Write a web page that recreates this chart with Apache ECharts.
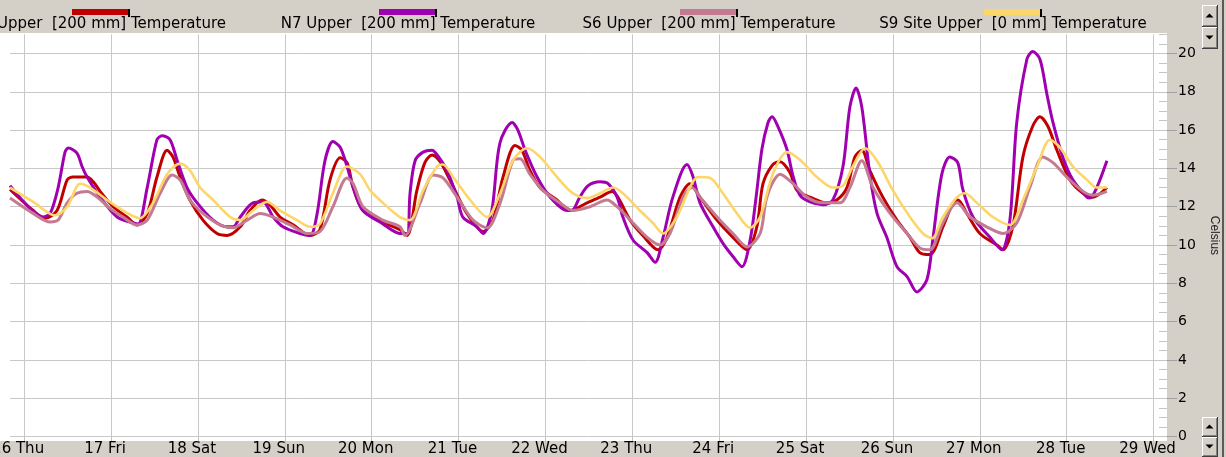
<!DOCTYPE html>
<html><head><meta charset="utf-8">
<script src="https://cdn.jsdelivr.net/npm/echarts@6/dist/echarts.min.js"></script>
<style>html,body{margin:0;padding:0;background:#d4d0c8;overflow:hidden}#c{width:1226px;height:457px}</style>
</head><body><div id="c"></div>
<script>
// ---- data ----
const dayLabels = ['16 Thu','17 Fri','18 Sat','19 Sun','20 Mon','21 Tue','22 Wed','23 Thu','24 Fri','25 Sat','26 Sun','27 Mon','28 Tue','29 Wed'];
const dayTicks = [0,24,48,72,96,120,144,168,192,216,240,264,288,312]; // hours since 16 Thu 00:00
const seriesNames = ['Upper  [200 mm] Temperature','N7 Upper  [200 mm] Temperature','S6 Upper  [200 mm] Temperature','S9 Site Upper  [0 mm] Temperature'];
const seriesColors = ['#c00000','#a000b0','#c47a90','#fcd668'];

const redHours = [-3.9,2.5,5.8,9.1,11.9,13.5,17.4,19.1,21.0,24.6,28.4,31.2,34.0,36.7,39.5,41.1,43.1,45.8,49.4,53.3,56.1,59.7,62.4,65.7,67.9,70.7,74.3,79.0,81.7,84.5,87.3,89.2,90.9,93.6,99.1,103.8,105.8,108.5,110.7,112.7,114.9,117.6,122.3,126.8,129.5,132.3,135.6,137.5,139.7,142.5,147.2,150.8,155.5,159.1,162.4,164.0,167.4,170.9,175.1,177.6,181.2,183.9,186.7,191.4,195.8,199.7,202.4,204.1,206.8,208.8,211.5,213.5,217.1,221.8,224.5,227.3,229.5,231.4,233.6,237.2,241.1,244.7,247.4,250.2,253.8,256.6,257.9,260.4,264.0,268.7,270.4,273.1,275.9,278.6,280.6,282.8,285.3,288.9,292.5,295.2,299.1];
const redTemp = [12.9,11.8,11.4,11.8,13.4,13.55,13.55,13.3,12.8,12.0,11.46,11.05,11.65,13.55,14.95,14.6,13.55,12.35,11.3,10.6,10.5,10.95,11.8,12.35,12.1,11.46,11.05,10.5,10.8,13.4,14.55,14.3,13.0,11.8,11.2,10.8,10.5,12.85,14.3,14.7,14.35,13.4,11.65,10.7,11.3,13.55,15.2,14.95,13.9,13.0,12.35,11.8,12.2,12.5,12.8,12.5,11.3,10.5,9.75,10.4,12.5,13.2,12.5,11.3,10.4,9.75,10.95,13.2,14.2,14.35,13.8,12.85,12.5,12.2,12.35,13.0,14.6,14.95,13.9,12.5,11.3,10.4,9.6,9.5,10.95,12.2,12.35,11.65,10.6,10.0,9.75,10.95,14.6,16.2,16.7,16.2,14.95,13.4,12.7,12.5,13.0];

const purpleHours = [-3.9,1.7,5.2,7.2,9.4,11.3,12.2,14.6,16.0,17.4,21.0,25.7,30.1,31.5,34.0,36.7,38.1,40.3,42.3,45.0,47.8,52.2,56.1,57.7,59.7,63.2,66.0,68.8,71.5,76.2,79.0,80.9,83.1,85.3,87.3,89.2,90.9,93.6,99.1,103.8,105.8,106.6,108.0,110.2,112.7,114.1,116.8,119.6,121.2,125.1,126.8,129.2,131.4,134.8,136.4,138.4,141.7,145.3,150.0,151.3,153.5,155.8,159.1,161.3,163.8,165.4,168.2,172.1,174.3,176.5,179.2,183.1,184.8,186.7,190.3,193.0,195.8,198.3,200.5,202.2,203.8,205.5,206.6,208.2,210.7,212.4,214.3,217.1,220.7,223.4,226.2,228.1,229.8,231.4,233.6,235.6,238.3,241.1,243.9,246.6,249.4,251.0,253.5,255.7,257.9,259.3,262.1,266.8,270.1,272.3,274.2,277.0,278.6,280.6,282.5,284.2,286.9,289.7,293.6,294.4,296.3,299.1];
const purpleTemp = [13.1,11.9,11.46,11.65,13.0,14.85,15.06,14.8,14.1,13.55,12.5,11.46,11.15,11.1,13.0,15.5,15.7,15.5,14.4,13.0,12.2,11.3,10.95,10.95,11.46,12.2,12.25,11.46,10.95,10.6,10.5,11.6,14.4,15.4,15.1,14.1,13.0,11.8,11.1,10.6,10.6,12.7,14.4,14.85,14.95,14.7,13.9,12.5,11.46,10.95,10.6,11.8,15.3,16.4,16.0,14.95,13.55,12.5,11.8,11.8,12.5,13.1,13.3,13.2,12.5,11.46,10.26,9.6,9.1,10.4,12.5,14.2,13.55,12.2,10.95,10.1,9.4,8.87,10.2,12.5,15.0,16.4,16.7,16.2,15.0,13.6,12.6,12.25,12.1,12.35,14.1,17.2,18.2,17.2,13.7,11.65,10.4,8.87,8.35,7.55,8.2,10.26,13.7,14.6,14.3,12.9,11.46,10.4,9.75,11.3,16.4,19.7,20.1,19.7,17.9,16.4,14.6,13.4,12.5,12.45,13.0,14.4];

const pinkHours = [-3.9,2.5,7.2,9.4,11.9,14.6,17.4,20.2,23.8,27.3,31.2,34.0,37.6,40.9,43.1,45.8,49.4,54.1,57.7,61.6,65.2,68.8,73.5,78.2,81.7,85.3,89.2,90.9,93.6,99.1,103.8,105.2,109.4,113.0,115.7,119.6,124.0,127.9,131.5,135.0,137.0,139.7,143.3,148.0,151.6,156.3,161.0,163.8,168.2,172.1,175.6,178.4,182.0,184.5,186.7,191.4,195.8,199.7,203.3,204.9,206.6,208.8,212.4,216.2,220.7,225.4,228.1,231.4,234.5,239.2,243.9,247.4,250.2,253.8,257.7,261.3,265.9,270.4,274.2,277.8,281.4,284.2,288.0,292.5,295.2,299.1];
const pinkTemp = [12.45,11.65,11.2,11.3,12.2,12.7,12.8,12.5,11.9,11.46,11.05,11.3,12.7,13.65,13.4,12.35,11.65,11.05,10.9,11.3,11.65,11.46,11.05,10.6,10.7,12.0,13.5,13.2,12.0,11.3,10.95,10.5,12.2,13.65,13.5,12.5,11.3,10.9,12.2,14.4,14.5,13.7,12.85,12.2,11.8,12.0,12.35,12.0,11.15,10.4,10.0,10.6,12.5,13.0,12.5,11.46,10.6,9.9,10.6,12.3,13.2,13.7,13.2,12.5,12.2,12.2,13.0,14.4,13.0,11.65,10.6,9.85,9.75,11.15,12.2,11.46,10.95,10.6,11.15,13.0,14.6,14.3,13.55,12.8,12.6,12.8];

const yellowHours = [-3.9,2.5,8.6,11.9,15.5,18.2,22.9,27.3,32.0,35.6,39.5,43.1,45.8,48.6,52.2,56.9,59.7,63.2,67.1,70.7,75.4,79.0,81.7,85.3,89.2,92.8,95.6,99.1,103.8,106.6,110.2,114.1,115.7,118.5,123.2,127.9,131.5,135.0,138.9,142.5,147.2,151.6,155.5,159.1,162.7,165.4,170.1,173.7,176.5,180.3,183.9,186.1,189.5,193.0,196.9,200.5,203.3,206.8,210.7,214.3,219.0,223.4,226.2,228.9,232.3,235.6,240.0,244.7,248.3,250.8,253.8,257.7,259.9,263.2,267.6,272.3,275.9,279.8,283.4,286.1,289.7,293.6,296.3,299.1];
const yellowTemp = [13.0,12.25,11.55,12.0,13.2,13.0,12.35,11.8,11.4,12.2,13.7,14.25,13.9,13.0,12.35,11.46,11.3,11.8,12.25,11.8,11.3,10.95,11.1,12.7,14.1,13.7,12.85,12.2,11.46,11.3,12.85,14.1,14.2,13.55,12.35,11.46,12.7,14.4,15.05,14.6,13.55,12.7,12.45,12.7,13.0,12.7,11.8,11.15,10.6,11.46,13.0,13.55,13.5,12.7,11.65,10.9,11.46,13.7,14.85,14.45,13.55,13.0,13.1,14.1,15.05,14.4,12.85,11.46,10.6,10.35,11.46,12.5,12.7,12.2,11.46,11.05,12.35,14.1,15.5,15.1,14.1,13.4,13.0,13.0];

const allHours = [redHours, purpleHours, pinkHours, yellowHours];
const allTemps = [redTemp, purpleTemp, pinkTemp, yellowTemp];

// ---- chart ----
const FONT = 'DejaVu Sans';
const chart = echarts.init(document.getElementById('c'), null, {renderer:'canvas'});

function button(x, y, w, h, up) {
  const els = [
    {type:'rect', shape:{x:x, y:y, width:w, height:h}, style:{fill:'#404040'}},
    {type:'rect', shape:{x:x, y:y, width:w-1, height:h-1}, style:{fill:'#ffffff'}},
    {type:'rect', shape:{x:x+1, y:y+1, width:w-2, height:h-2}, style:{fill:'#808080'}},
    {type:'rect', shape:{x:x+1, y:y+1, width:w-3, height:h-3}, style:{fill:'#d4d0c8'}}
  ];
  const cx = x + w/2 - 0.5, cy = y + h/2 - 0.5;
  const pts = up ? [[cx-4, cy+2],[cx+4, cy+2],[cx, cy-2]] : [[cx-4, cy-2],[cx+4, cy-2],[cx, cy+2]];
  els.push({type:'polygon', shape:{points:pts}, style:{fill:'#000'}});
  return els;
}

const legendCenters = [101, 408, 709, 1013];
const graphics = [
  {type:'rect', z:-10, shape:{x:0, y:33, width:1167, height:408}, style:{fill:'#ffffff'}},
  {type:'rect', z:10, shape:{x:1222, y:0, width:2, height:457}, style:{fill:'#5a5a5a'}}
];
seriesNames.forEach((n, i) => {
  const cx = legendCenters[i];
  graphics.push({type:'rect', shape:{x:cx-29, y:9, width:56, height:6}, style:{fill:seriesColors[i]}});
  graphics.push({type:'rect', shape:{x:cx+27, y:9, width:2, height:8}, style:{fill:'#000'}});
  if (i === 0) {
    graphics.push({type:'text', style:{text:n, x:226, y:24, align:'right', verticalAlign:'middle', font:'15px "'+FONT+'"', fill:'#000'}});
  } else {
    graphics.push({type:'text', style:{text:n, x:cx, y:24, align:'center', verticalAlign:'middle', font:'15px "'+FONT+'"', fill:'#000'}});
  }
});
[[1202,5,16,22,true],[1202,27,16,22,false],[1202,417,16,20,true],[1202,437,16,20,false]].forEach(b => {
  button(b[0], b[1], b[2], b[3], b[4]).forEach(e => { e.z = 10; graphics.push(e); });
});

chart.setOption({
  animation: false,
  backgroundColor: '#d4d0c8',
  textStyle: {fontFamily: FONT},
  grid: {left: 10, right: 59, top: 34.35, bottom: 20.5, containLabel: false, outerBoundsMode: 'none'},
  xAxis: {
    type: 'value', min: -3.9, max: 315.7,
    axisLine: {show: false},
    axisTick: {show: true, customValues: dayTicks, length: 10, lineStyle: {color: '#c0c0c0'}},
    axisLabel: {customValues: dayTicks, formatter: v => dayLabels[Math.round(v / 24)], color: '#000', fontFamily: FONT, fontSize: 15, margin: 5, padding: [0, 12, 0, 0]},
    splitLine: {show: true, lineStyle: {color: '#c8c8c8', width: 1}}
  },
  yAxis: [{
    type: 'value', position: 'right', min: 0, max: 21, interval: 2,
    axisLine: {show: false, onZero: false},
    axisTick: {show: true, length: 10, lineStyle: {color: '#a0a0a0'}},
    axisLabel: {margin: 11, showMaxLabel: false, formatter: v => (v % 2 === 0 ? String(v) : ''), color: '#000', fontFamily: FONT, fontSize: 14},
    splitLine: {show: true, showMaxLine: false, lineStyle: {color: '#c8c8c8', width: 1}},
    name: 'Celsius', nameLocation: 'middle', nameRotate: -90, nameGap: 41,
    nameTextStyle: {color: '#222', fontFamily: 'Liberation Sans', fontSize: 12}
  }, {
    type: 'value', position: 'right', min: 0, max: 21, interval: 0.5,
    axisLine: {show: false, onZero: false},
    axisTick: {show: true, inside: true, length: 8, lineStyle: {color: '#c4c4c4'}},
    axisLabel: {show: false},
    splitLine: {show: false}
  }],
  graphic: graphics,
  series: seriesNames.map((n, i) => ({
    name: n, type: 'line', showSymbol: false, smooth: 0.3, yAxisIndex: 0,
    lineStyle: {color: seriesColors[i], width: i === 3 ? 2.6 : 3},
    itemStyle: {color: seriesColors[i]},
    data: allHours[i].map((h, k) => [h, allTemps[i][k]])
  }))
});
</script></body></html>
